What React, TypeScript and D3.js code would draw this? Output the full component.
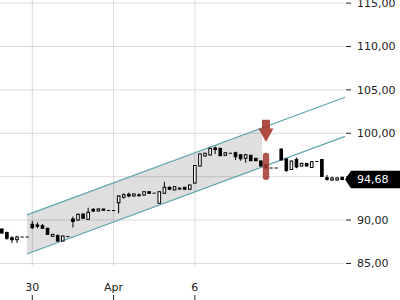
import React from 'react';
import * as d3 from 'd3';

// OHLC per bar (index-positioned)
const opens = [88.97, 88.59, 87.97, 87.74, 88.05, 88.05, 89.52, 89.44, 89.35, 89.06,
  88.13, 88.20, 87.59, 88.10, 90.13, 90.01, 90.70, 90.09, 91.24, 91.05,
  91.28, 91.10, 91.10, 92.00, 92.63, 92.97, 92.78, 92.90, 92.89, 93.27,
  93.10, 91.94, 93.09, 93.78, 93.47, 93.66, 93.78, 93.55, 94.27, 96.23,
  97.38, 97.50, 98.31, 98.27, 97.47, 97.70, 97.76, 97.53, 97.12, 97.47,
  97.12, 96.81, 96.38, 96.00, 96.00, 98.16, 97.04, 95.83, 96.98, 96.23,
  96.52, 96.06, 96.75, 96.98, 94.88, 94.62, 94.62, 94.93];
const highs = [89.05, 88.62, 88.13, 88.20, 88.05, 88.05, 89.90, 89.75, 89.55, 89.10,
  88.40, 88.36, 88.20, 88.10, 90.41, 90.75, 90.75, 91.43, 91.39, 91.35,
  91.30, 91.10, 91.10, 92.89, 93.09, 93.16, 93.05, 93.09, 93.30, 93.30,
  93.10, 93.30, 94.42, 93.85, 93.90, 93.81, 93.82, 94.08, 96.32, 97.68,
  97.75, 98.30, 98.48, 98.30, 97.80, 97.70, 97.88, 97.55, 97.62, 97.50,
  97.15, 96.85, 96.45, 96.00, 96.00, 98.30, 97.10, 96.85, 97.21, 96.60,
  96.60, 96.78, 96.75, 97.00, 95.20, 95.00, 94.95, 95.00];
const lows = [88.45, 87.74, 87.36, 87.36, 88.05, 88.05, 88.97, 89.06, 89.00, 88.30,
  88.10, 87.51, 87.55, 88.10, 89.15, 89.95, 90.15, 90.05, 90.93, 91.00,
  91.10, 91.10, 91.10, 90.78, 92.47, 92.63, 92.75, 92.70, 92.85, 93.05,
  93.10, 91.90, 93.05, 93.50, 93.45, 93.53, 93.50, 93.50, 94.20, 96.20,
  97.35, 97.45, 97.62, 97.40, 97.45, 97.70, 96.92, 96.84, 96.61, 96.80,
  96.80, 96.20, 95.95, 96.00, 96.00, 96.90, 95.54, 95.80, 95.97, 96.20,
  96.20, 96.00, 96.75, 95.00, 94.54, 94.50, 94.55, 94.60];
const closes = [88.51, 87.90, 87.74, 88.05, 88.05, 88.05, 89.12, 89.29, 89.06, 88.36,
  88.36, 87.59, 88.17, 88.10, 89.84, 90.67, 90.21, 90.90, 91.05, 91.28,
  91.13, 91.10, 91.10, 92.78, 92.93, 92.78, 93.01, 92.91, 93.27, 93.09,
  93.10, 93.27, 93.78, 93.55, 93.85, 93.67, 93.55, 94.04, 96.29, 97.62,
  97.70, 98.27, 98.13, 97.42, 97.76, 97.70, 97.30, 97.07, 97.53, 96.84,
  96.84, 96.23, 96.00, 96.00, 96.00, 96.92, 95.71, 96.81, 96.12, 96.54,
  96.23, 96.73, 96.75, 95.02, 94.70, 94.85, 94.85, 94.68];

const xTickIdx = [6, 22, 38];
const xTickLabels = ['30', 'Apr', '6'];
const yTicks = [85, 90, 95, 100, 105, 110, 115];
const lastPrice = 94.68;

// trend channel (bar index, upper price, lower price)
const channelIdx = [4.95, 51.2, 67.56];
const channelUpper = [90.6, 100.6, 104.15];
const channelLower = [86.1, 96.1, 99.65];

// signal markers
const signalIdx = 52;
const arrowTopPrice = 101.55;
const arrowTipPrice = 99.0;
const barTopPrice = 97.76;
const barBottomPrice = 94.62;

const W = 400;
const H = 300;
const PLOT_RIGHT = 345;

const fmtLocale = d3.formatLocale({ decimal: ',', thousands: '.', grouping: [3], currency: ['', '€'] });
const fmt = fmtLocale.format('.2f');

export default function App() {
  const x = d3.scaleLinear().domain([0, 67]).range([1.8, 342.2]);
  const y = d3.scaleLinear().domain([85, 100]).range([263.5, 133.3]);
  const font = "'DejaVu Sans', sans-serif";
  const bw = 2.6;

  const fillPoly = [
    [x(channelIdx[0]), y(channelUpper[0])],
    [x(channelIdx[1]), y(channelUpper[1])],
    [x(channelIdx[1]), y(channelLower[1])],
    [x(channelIdx[0]), y(channelLower[0])],
  ];
  const line = d3.line<[number, number]>();

  const cx = x(signalIdx);
  const aTop = y(arrowTopPrice);
  const aTip = y(arrowTipPrice);
  const headBase = aTip - 13.5;
  const arrowPath = `M${cx - 4},${aTop} L${cx + 4},${aTop} L${cx + 4},${headBase} L${cx + 7.5},${headBase} L${cx},${aTip} L${cx - 7.5},${headBase} L${cx - 4},${headBase} Z`;

  const py = y(lastPrice);

  return (
    <svg width={W} height={H} style={{ position: 'absolute', left: 0, top: 0, display: 'block', background: '#fff' }}>
      {/* grid */}
      {yTicks.map((t) => (
        <line key={'gy' + t} x1={0} x2={PLOT_RIGHT} y1={y(t)} y2={y(t)} stroke="#dcdcdc" strokeWidth={1} />
      ))}
      {xTickIdx.map((t) => (
        <line key={'gx' + t} x1={x(t)} x2={x(t)} y1={0} y2={266} stroke="#dcdcdc" strokeWidth={1} />
      ))}
      {/* channel */}
      <path d={line(fillPoly as [number, number][]) + 'Z'} fill="rgba(0,0,0,0.125)" />
      <path d={line([[x(channelIdx[0]), y(channelUpper[0])], [x(channelIdx[2]), y(channelUpper[2])]])!} stroke="#5ea5ae" strokeWidth={1.2} fill="none" />
      <path d={line([[x(channelIdx[0]), y(channelLower[0])], [x(channelIdx[2]), y(channelLower[2])]])!} stroke="#5ea5ae" strokeWidth={1.2} fill="none" />
      {/* candles */}
      {opens.map((o, i) => {
        const c = closes[i];
        const h = highs[i];
        const l = lows[i];
        const xc = x(i);
        if (h === l) {
          return <line key={i} x1={xc - 1.6} x2={xc + 1.6} y1={y(c)} y2={y(c)} stroke="#000" strokeWidth={1} />;
        }
        const top = y(Math.max(o, c));
        const bot = y(Math.min(o, c));
        const up = c >= o;
        const hgt = Math.max(bot - top, 0.8);
        return (
          <g key={i}>
            <line x1={xc} x2={xc} y1={y(h)} y2={y(l)} stroke="#000" strokeWidth={1} />
            <rect x={xc - bw / 2} y={top} width={bw} height={hgt} fill={up ? '#fff' : '#000'} stroke="#000" strokeWidth={1} />
          </g>
        );
      })}
      {/* signal markers */}
      <path d={arrowPath} fill="#a5382e" opacity={0.9} />
      <rect x={cx - 3.2} y={y(barTopPrice)} width={6.4} height={y(barBottomPrice) - y(barTopPrice)} rx={3} fill="#a5382e" opacity={0.85} />
      {/* y axis */}
      {yTicks.map((t) => (
        <g key={'yt' + t}>
          <line x1={346} x2={351} y1={y(t)} y2={y(t)} stroke="#222" strokeWidth={1} />
          {Math.abs(y(t) - py) > 12 && (
            <text x={357} y={y(t)} dy="0.35em" fontSize={11} fontFamily={font} fill="#222">{fmt(t)}</text>
          )}
        </g>
      ))}
      {/* x axis */}
      {xTickIdx.map((t, k) => (
        <g key={'xt' + t}>
          <line x1={x(t)} x2={x(t)} y1={295} y2={300} stroke="#222" strokeWidth={1} />
          <text x={x(t)} y={291} textAnchor="middle" fontSize={11} fontFamily={font} fill="#222">{xTickLabels[k]}</text>
        </g>
      ))}
      {/* last price label */}
      <path d={`M345,${py} L351,${py - 8.8} L400,${py - 8.8} L400,${py + 8.8} L351,${py + 8.8} Z`} fill="#000" />
      <text x={357} y={py} dy="0.36em" fontSize={11} fontFamily={font} fill="#fff">{fmt(lastPrice)}</text>
    </svg>
  );
}
